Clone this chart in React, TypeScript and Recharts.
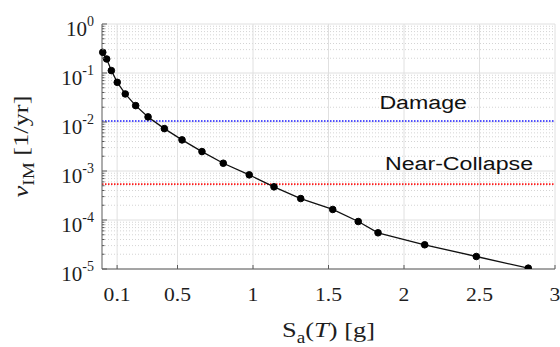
import React from 'react'
import {
  ComposedChart,
  Line,
  XAxis,
  YAxis,
  CartesianGrid,
  ReferenceLine,
} from 'recharts'

// hazard curve: spectral acceleration [g] vs mean annual rate [1/yr]
const saValues = [
  0.005, 0.031, 0.062, 0.101, 0.154, 0.223, 0.305, 0.413, 0.53, 0.662,
  0.803, 0.975, 1.139, 1.316, 1.528, 1.697, 1.828, 2.137, 2.479, 2.823,
]
const rateValues = [
  0.264, 0.193, 0.112, 0.0645, 0.0374, 0.0216, 0.0127, 0.00733, 0.00431, 0.00249,
  0.00144, 0.000834, 0.000475, 0.000274, 0.000164, 0.0000931, 0.0000548,
  0.0000312, 0.000018, 0.0000104,
]

// limit-state thresholds
const limitNames = ['Damage', 'Near-Collapse']
const limitRates = [0.0105, 0.00054]
const limitColors = ['#1a1aff', '#ff1a1a']

const xTicks = [0.1, 0.5, 1, 1.5, 2, 2.5, 3]
const decadeExponents = [0, -1, -2, -3, -4, -5]
const decades = decadeExponents.map((e) => Math.pow(10, e))
const minorSteps = [2, 3, 4, 5, 6, 7, 8, 9]
const minorTicks = decades
  .slice(1)
  .flatMap((d) => minorSteps.map((m) => d * m))
const yTicks = [...decades, ...minorTicks].sort((a, b) => a - b)

const data = saValues.map((sa, i) => ({ sa, rate: rateValues[i] }))

const SERIF = '"Liberation Serif", "Times New Roman", serif'
const SANS = '"Liberation Sans", Arial, sans-serif'
const AXIS = '#5a5a5a'
const TEXT = '#1e1e1e'

const isDecade = (v: number) => decades.some((d) => Math.abs(d - v) / d < 1e-6)

const BottomTick = ({ x, y, payload }: any) => (
  <g>
    <line x1={x} x2={x} y1={y} y2={y - 4} stroke={AXIS} />
    <text
      transform={`translate(${x},${y + 32}) scale(1.2,1)`}
      textAnchor="middle"
      fontFamily={SERIF}
      fontSize={18}
      fill={TEXT}
    >
      {payload.value}
    </text>
  </g>
)

const TopTick = ({ x, y }: any) => (
  <line x1={x} x2={x} y1={y} y2={y + 4} stroke={AXIS} />
)

const LeftTick = ({ x, y, payload }: any) => {
  const major = isDecade(payload.value)
  const exp = Math.round(Math.log10(payload.value))
  return (
    <g>
      <line x1={x} x2={x + (major ? 5 : 2.5)} y1={y} y2={y} stroke={AXIS} />
      {major && (
        <text x={x - 8} y={y + 12} textAnchor="end" fontFamily={SERIF} fontSize={21} fill={TEXT}>
          10
          <tspan fontSize={14} dy={-10}>
            {exp}
          </tspan>
        </text>
      )}
    </g>
  )
}

const RightTick = ({ x, y, payload }: any) => {
  const major = isDecade(payload.value)
  return <line x1={x} x2={x - (major ? 5 : 2.5)} y1={y} y2={y} stroke={AXIS} />
}

const XTitle = ({ viewBox }: any) => {
  const cx = viewBox.x + viewBox.width / 2
  return (
    <text
      transform={`translate(${cx},${viewBox.y + 68}) scale(1.2,1)`}
      textAnchor="middle"
      fontFamily={SERIF}
      fontSize={22}
      fill={TEXT}
    >
      S
      <tspan fontSize={16} dy={6}>
        a
      </tspan>
      <tspan dy={-6}>(</tspan>
      <tspan fontStyle="italic">T</tspan>
      <tspan>) [g]</tspan>
    </text>
  )
}

const YTitle = ({ viewBox }: any) => {
  const cy = viewBox.y + viewBox.height / 2
  return (
    <text
      transform={`translate(${viewBox.x + 28},${cy}) rotate(-90) scale(1.2,1)`}
      textAnchor="middle"
      fontFamily={SERIF}
      fontSize={22}
      fill={TEXT}
    >
      <tspan fontStyle="italic">ν</tspan>
      <tspan fontSize={16} dy={6}>
        IM
      </tspan>
      <tspan dy={-6}> [1/yr]</tspan>
    </text>
  )
}

const LimitLabel = ({ viewBox, text, at, lift }: any) => {
  const cx = viewBox.x + viewBox.width * at
  return (
    <text
      transform={`translate(${cx},${viewBox.y - lift}) scale(1.22,1)`}
      textAnchor="middle"
      fontFamily={SANS}
      fontSize={19}
      fill="#111"
    >
      {text}
    </text>
  )
}

const labelSpots = [
  { at: 0.709, lift: 12 },
  { at: 0.788, lift: 14 },
]

export default function App() {
  return (
    <div style={{ position: 'absolute', left: 0, top: 0, width: 560, height: 347, background: '#fff' }}>
      <ComposedChart
        width={560}
        height={347}
        data={data}
        margin={{ top: 24, right: 5, bottom: 0, left: 0 }}
      >
        {/* minor decade grid, dotted */}
        <CartesianGrid
          vertical={false}
          horizontalValues={minorTicks}
          stroke="#d4d4d4"
          strokeDasharray="1 2"
        />
        {/* major grid */}
        <CartesianGrid
          horizontalValues={decades}
          verticalValues={xTicks}
          stroke="#e0e0e0"
        />

        <XAxis
          dataKey="sa"
          type="number"
          domain={[0, 3]}
          ticks={xTicks}
          interval={0}
          height={78}
          tickSize={0}
          tickMargin={0}
          tickLine={false}
          axisLine={{ stroke: AXIS }}
          tick={<BottomTick />}
          label={<XTitle />}
        />
        <XAxis
          xAxisId="top"
          orientation="top"
          type="number"
          domain={[0, 3]}
          ticks={xTicks}
          interval={0}
          height={0}
          tickSize={0}
          tickMargin={0}
          tickLine={false}
          axisLine={{ stroke: AXIS }}
          tick={<TopTick />}
        />
        <YAxis
          type="number"
          scale="log"
          domain={[1e-5, 1]}
          allowDataOverflow
          ticks={yTicks}
          interval={0}
          width={102}
          tickSize={0}
          tickMargin={0}
          tickLine={false}
          axisLine={{ stroke: AXIS }}
          tick={<LeftTick />}
          label={<YTitle />}
        />
        <YAxis
          yAxisId="right"
          orientation="right"
          type="number"
          scale="log"
          domain={[1e-5, 1]}
          allowDataOverflow
          ticks={yTicks}
          interval={0}
          width={0}
          tickSize={0}
          tickMargin={0}
          tickLine={false}
          axisLine={{ stroke: AXIS }}
          tick={<RightTick />}
        />

        {limitRates.map((r, i) => (
          <ReferenceLine
            key={limitNames[i]}
            y={r}
            stroke={limitColors[i]}
            strokeWidth={1.6}
            strokeDasharray="1.5 1.5"
            label={<LimitLabel text={limitNames[i]} {...labelSpots[i]} />}
          />
        ))}

        <Line
          dataKey="rate"
          stroke="#111"
          strokeWidth={1.3}
          dot={{ r: 3.3, fill: '#000', stroke: '#000', strokeWidth: 1 }}
          isAnimationActive={false}
        />
      </ComposedChart>
    </div>
  )
}
